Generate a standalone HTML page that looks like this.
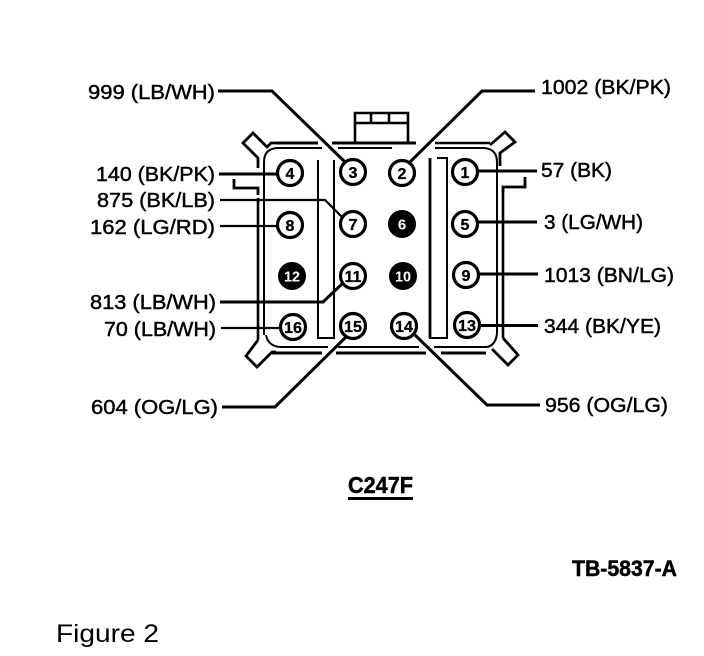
<!DOCTYPE html>
<html>
<head>
<meta charset="utf-8">
<style>
html,body{margin:0;padding:0;background:#fff;width:704px;height:656px;overflow:hidden}
svg{display:block}
text{font-family:"Liberation Sans",sans-serif;fill:#000}
.l{font-size:20px;stroke:#000;stroke-width:.45px}
.n{font-size:16px;font-weight:bold;text-anchor:middle;stroke:#000;stroke-width:.3px}
.w{fill:#fff;font-size:15px;font-weight:bold;text-anchor:middle}
</style>
</head>
<body>
<svg width="704" height="656" viewBox="0 0 704 656" xmlns="http://www.w3.org/2000/svg">
<g fill="none" stroke="#000" stroke-width="2" stroke-linejoin="miter">
  <!-- top housing -->
  <path d="M355 143V113H408V143M355 123H408M371 113V123M389 113V123" stroke-width="2.6"/>
  <!-- top double lines -->
  <path d="M276 143H318M332 143H416" stroke-width="3"/>
  <path d="M435 143H490" stroke-width="2.6"/>
  <path d="M277 148H322M338 148H392M435 148H484" stroke-width="2"/>
  <!-- bottom double lines -->
  <path d="M280 347H328M338 347H419M434 347H487" stroke-width="2"/>
  <path d="M272 353H322M336 353H426M441 353H486" stroke-width="3"/>
  <!-- left walls -->
  <path d="M258 198V340" stroke-width="2.6"/>
  <path d="M264 162V335" stroke-width="2"/>
  <path d="M277 148Q264 149 264 162" stroke-width="2"/>
  <path d="M266 335Q268 346 280 347" stroke-width="2"/>
  <!-- right walls -->
  <path d="M497 162V333" stroke-width="2"/>
  <path d="M503 188V338" stroke-width="2.6"/>
  <path d="M484 148Q497 149 497 162" stroke-width="2"/>
  <path d="M497 333Q496 345 487 347" stroke-width="2"/>
  <!-- corner tabs -->
  <path d="M276 143H271L267 147L253 133L243 143L258 158V168" stroke-width="2.8"/>
  <path d="M490 145L505 132L515 142L500 153V166" stroke-width="2.8"/>
  <path d="M258 340L246 356L257 367L272 352H276" stroke-width="2.8"/>
  <path d="M503 338L518 355L508 365L492 349" stroke-width="2.8"/>
  <!-- brackets -->
  <path d="M234 179V188H258V195" stroke-width="2.8"/>
  <path d="M525 177V187H503V192" stroke-width="2.8"/>
  <!-- slots -->
  <path d="M318 160V338H334V160" stroke-width="2"/>
  <path d="M430 158V338H447V158H437" stroke-width="2"/>
  <path d="M430 158V338" stroke-width="2.8"/>
  <!-- leaders -->
  <g stroke-width="3">
    <path d="M218 91H272L345 162"/>
    <path d="M410 162L482 91H535"/>
    <path d="M219 174H277"/>
    <path d="M478 171H537"/>
    <path d="M478 222H537"/>
    <path d="M479 274H538"/>
    <path d="M480 325.500H538"/>
    <path d="M220 302H323L343 283"/>
    <path d="M222 407H275L348 335"/>
    <path d="M415 335L487 405H540"/>
  </g>
  <g stroke-width="2.200">
    <path d="M220 200H325L343 218"/>
    <path d="M220 226H277"/>
    <path d="M221 328H280"/>
  </g>
  <!-- pin circles -->
  <g fill="#fff" stroke-width="3.200">
    <circle cx="290" cy="173" r="12.500"/>
    <circle cx="353" cy="172" r="12.500"/>
    <circle cx="402" cy="173" r="12.500"/>
    <circle cx="465" cy="172" r="12.500"/>
    <circle cx="290" cy="225" r="12.500"/>
    <circle cx="353" cy="224" r="12.500"/>
    <circle cx="465" cy="224" r="12.500"/>
    <circle cx="353" cy="276" r="12.500"/>
    <circle cx="466" cy="275" r="12.500"/>
    <circle cx="293" cy="327" r="12.500"/>
    <circle cx="353" cy="326" r="12.500"/>
    <circle cx="404" cy="326" r="12.500"/>
    <circle cx="467" cy="325" r="12.500"/>
  </g>
  <g fill="#000" stroke="#000" stroke-width="1">
    <circle cx="402" cy="224" r="13.500"/>
    <circle cx="292" cy="276" r="13.500"/>
    <circle cx="403" cy="276" r="13.500"/>
  </g>
  <!-- caption underline -->
  <path d="M348 498.500H413" stroke-width="3"/>
</g>

<!-- pin numbers -->
<text class="n" x="290" y="179">4</text>
<text class="n" x="353" y="178">3</text>
<text class="n" x="402" y="179">2</text>
<text class="n" x="465" y="178">1</text>
<text class="n" x="290" y="231">8</text>
<text class="n" x="353" y="230">7</text>
<text class="w" x="402" y="229.500">6</text>
<text class="n" x="465" y="230">5</text>
<text class="w" x="292" y="281.500" textLength="16" lengthAdjust="spacingAndGlyphs">12</text>
<text class="n" x="353" y="282" textLength="17" lengthAdjust="spacingAndGlyphs">11</text>
<text class="w" x="403" y="281.500" textLength="16" lengthAdjust="spacingAndGlyphs">10</text>
<text class="n" x="466" y="281">9</text>
<text class="n" x="293" y="333" textLength="18" lengthAdjust="spacingAndGlyphs">16</text>
<text class="n" x="353" y="332" textLength="18" lengthAdjust="spacingAndGlyphs">15</text>
<text class="n" x="404" y="332" textLength="18" lengthAdjust="spacingAndGlyphs">14</text>
<text class="n" x="467" y="331" textLength="18" lengthAdjust="spacingAndGlyphs">13</text>

<!-- wire labels -->
<text class="l" x="88" y="99" textLength="127" lengthAdjust="spacingAndGlyphs">999 (LB/WH)</text>
<text class="l" x="541" y="94" textLength="130" lengthAdjust="spacingAndGlyphs">1002 (BK/PK)</text>
<text class="l" x="96" y="181" textLength="119" lengthAdjust="spacingAndGlyphs">140 (BK/PK)</text>
<text class="l" x="97" y="207" textLength="118" lengthAdjust="spacingAndGlyphs">875 (BK/LB)</text>
<text class="l" x="90" y="234" textLength="125" lengthAdjust="spacingAndGlyphs">162 (LG/RD)</text>
<text class="l" x="541" y="177" textLength="71" lengthAdjust="spacingAndGlyphs">57 (BK)</text>
<text class="l" x="544" y="229" textLength="99" lengthAdjust="spacingAndGlyphs">3 (LG/WH)</text>
<text class="l" x="544" y="282" textLength="130" lengthAdjust="spacingAndGlyphs">1013 (BN/LG)</text>
<text class="l" x="90" y="309" textLength="126" lengthAdjust="spacingAndGlyphs">813 (LB/WH)</text>
<text class="l" x="104" y="336" textLength="112" lengthAdjust="spacingAndGlyphs">70 (LB/WH)</text>
<text class="l" x="544" y="333" textLength="117" lengthAdjust="spacingAndGlyphs">344 (BK/YE)</text>
<text class="l" x="91" y="414" textLength="127" lengthAdjust="spacingAndGlyphs">604 (OG/LG)</text>
<text class="l" x="545" y="412" textLength="123" lengthAdjust="spacingAndGlyphs">956 (OG/LG)</text>

<!-- captions -->
<text x="348" y="493" font-size="23" font-weight="bold" textLength="65" lengthAdjust="spacingAndGlyphs" style="stroke:#000;stroke-width:.5px">C247F</text>
<text x="572" y="576" font-size="22" font-weight="bold" textLength="105" lengthAdjust="spacingAndGlyphs" style="stroke:#000;stroke-width:.5px">TB-5837-A</text>
<text x="56" y="642" font-size="25" textLength="103" lengthAdjust="spacingAndGlyphs">Figure 2</text>
</svg>
</body>
</html>
